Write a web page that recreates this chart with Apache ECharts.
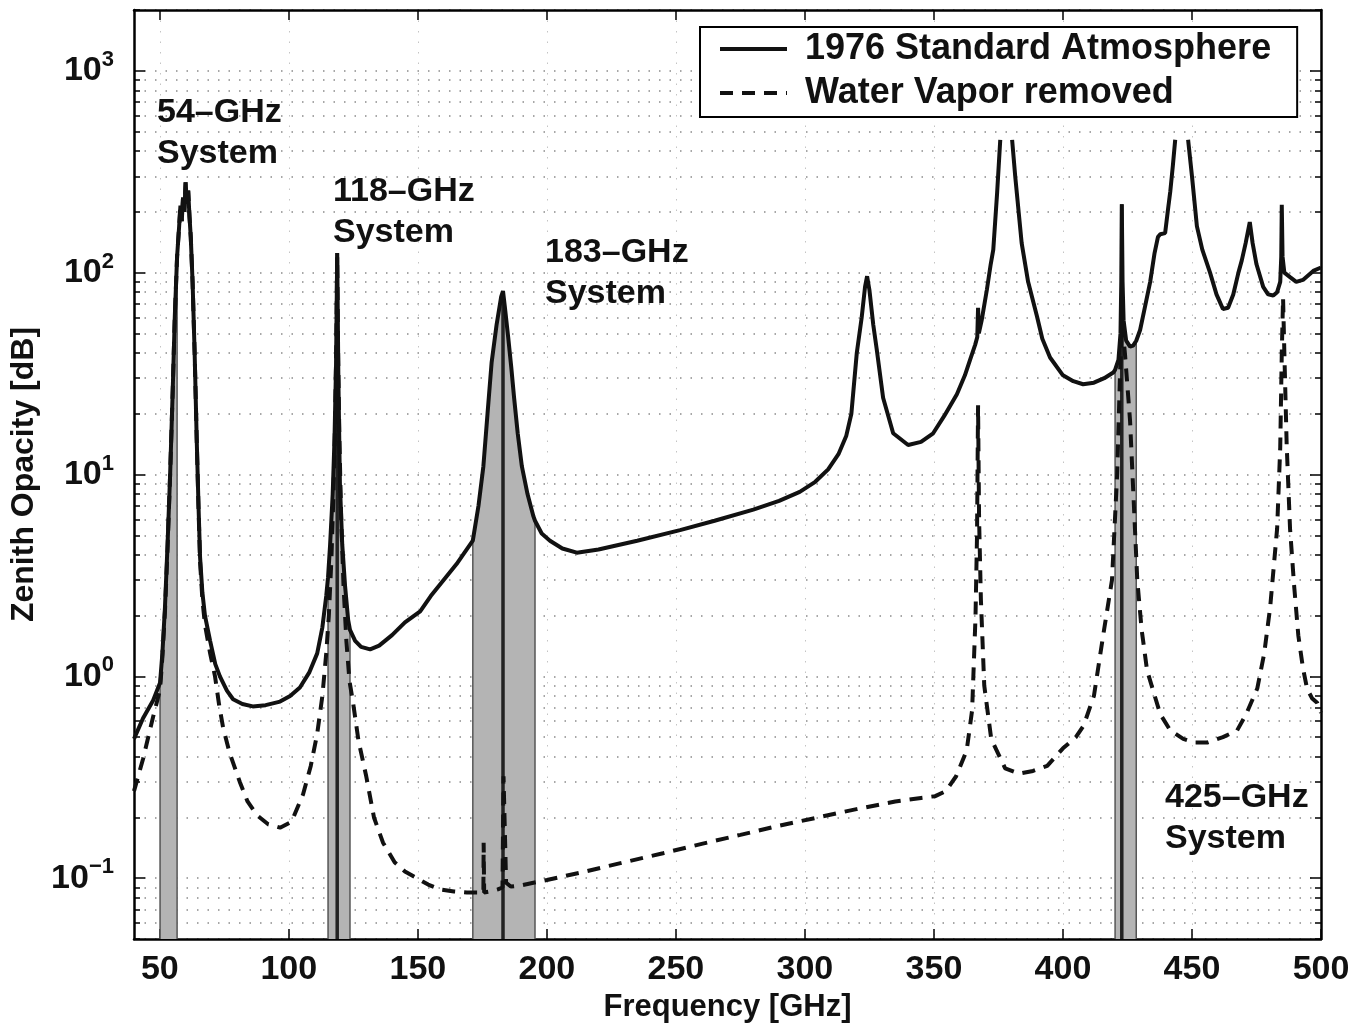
<!DOCTYPE html>
<html>
<head>
<meta charset="utf-8">
<script src="https://cdn.jsdelivr.net/npm/echarts@6/dist/echarts.min.js"></script>
<style>
html,body{margin:0;padding:0;background:#fff;}
#chart{width:1354px;height:1024px;}
</style>
</head>
<body>
<div id="chart"></div>
<script>
// ---------- data (frequency GHz, zenith opacity dB) ----------
const xTicks = [50,100,150,200,250,300,350,400,450,500];
const yMajorTicks = [0.1,1,10,100,1000];
const yMinorTicks = [0.05,0.06,0.07,0.08,0.09,0.2,0.3,0.4,0.5,0.6,0.7,0.8,0.9,
  2,3,4,5,6,7,8,9,20,30,40,50,60,70,80,90,200,300,400,500,600,700,800,900,2000];
const seriesNames = ['1976 Standard Atmosphere','Water Vapor removed'];

const standardAtm = [
 [40,0.49],[43.5,0.62],[47.4,0.76],[50.1,0.93],[51,1.3],[52,2.2],[53,4.5],[54,10],[55,26],[55.8,60],[56.7,120],
 [57.5,170],[58,215],[58.5,180],[59,235],[59.5,200],[60,280],[60.5,220],[61,255],[61.5,190],[62,150],
 [62.7,90],[63.5,40],[64.3,15],[65,7],[65.6,3.9],[66.5,2.6],[67.5,2.0],[69.5,1.5],[71.5,1.15],[73.3,1.0],
 [76,0.85],[78.4,0.77],[82,0.73],[86,0.71],[91,0.72],[96.6,0.75],[100.5,0.8],[104.3,0.88],[108,1.05],
 [111,1.3],[113,1.75],[114.5,2.5],[115.2,3.1],[116,4.5],[117,8],[117.7,15],[118.3,35],[118.75,125],
 [119.2,30],[119.8,9],[120.7,4.5],[121.8,2.8],[123,1.9],[123.7,1.7],[125.7,1.5],[128,1.4],[131.5,1.36],
 [135,1.42],[140,1.6],[145,1.85],[150.9,2.1],[155,2.5],[160,3.0],[165,3.6],[171.3,4.7],[173.5,7],
 [175.4,11],[177,20],[178.6,36],[180.5,55],[182.3,76],[183,81],[183.7,68],[185,48],[186.2,34],[187.3,24],
 [188.7,16],[190.3,11],[192.5,8],[194.8,6.2],[195.4,5.9],[198,5.1],[201.2,4.7],[206,4.3],[211.6,4.1],[220,4.25],[235,4.7],
 [251.6,5.3],[265,5.9],[280,6.7],[290,7.4],[298,8.2],[304,9.2],[309,10.6],[313,12.6],[316,15.5],[318,20],
 [320.1,40],[322,60],[323.3,85],[324.1,96],[325,82],[326.5,55],[327.8,42],[330.3,24],[334.2,16],
 [340,14],[345,14.5],[349.7,16],[354,19.5],[358.9,25],[362,31],[364,37],[366,44],[366.8,48],[367.1,67],
 [367.4,50],[368.5,58],[370.5,82],[372,110],[373,130],[374.5,250],[375.7,455],[378,null],
 [380.3,455],[381.5,300],[384,140],[386.5,90],[389.9,61],[392,47],[395,38],[400,31],[404,29],
 [407.8,28],[412,28.5],[416,30],[419.5,32],[420.2,33],[421.5,37],[422.3,50],[422.6,90],[422.8,218],
 [423.1,90],[423.5,58],[424.5,46],[426,43],[427.2,43.5],[428.4,46],[429.9,52],[431.5,65],[433.8,90],
 [435.5,125],[436.8,150],[437.7,155],[439.6,157],[440.6,200],[441.6,253],[442.6,340],[443.5,455],[446,null],
 [448.5,455],[450,300],[451.9,170],[454,130],[457,100],[459.5,78],[462,66],[464,67],[466,78],
 [468,100],[469.3,115],[470.8,140],[472.4,178],[473.5,140],[475,110],[477.6,85],[479.5,78],[481.5,77],
 [483,80],[484.2,90],[484.6,120],[484.8,217],[485.1,120],[485.8,100],[488,95],[490.4,90],[493,92],
 [497,102],[500,106]
];

const dryAir = [
 [40,0.27],[43.5,0.39],[47.4,0.63],[50.1,0.86],[51,1.25],[52,2.1],[53,4.3],[54,10],[55,26],[55.8,60],[56.7,120],
 [57.5,170],[58,215],[58.5,180],[59,235],[59.5,200],[60,280],[60.5,220],[61,255],[61.5,190],[62,150],
 [62.7,90],[63.5,40],[64.3,15],[65,6.8],[65.6,3.7],[66.5,2.4],[67.5,1.8],[69.5,1.3],[71.4,1.0],[73,0.72],
 [74.5,0.56],[77,0.42],[81,0.3],[84,0.24],[87.7,0.205],[92,0.185],[96.6,0.178],[101,0.19],[105.5,0.26],
 [108.5,0.36],[111,0.52],[113,0.8],[114.5,1.3],[115.5,2],[116.5,3.8],[117.3,8],[117.9,18],[118.4,45],
 [118.75,120],[119.1,40],[119.6,15],[120.3,6],[121.2,2.8],[122.3,1.5],[123.5,0.95],[124.9,0.74],[127,0.48],
 [130,0.32],[133,0.2],[136.5,0.15],[141,0.12],[145,0.108],[149.7,0.1],[154,0.093],[158.6,0.088],[164,0.086],
 [169,0.085],[175.4,0.085],[175.5,0.15],[175.7,0.085],[178,0.086],[181,0.088],[182.8,0.09],[183.2,0.32],
 [183.6,0.32],[184.2,0.095],[186,0.091],[189.6,0.092],[200,0.098],[215,0.108],[230,0.12],[245,0.133],
 [260,0.148],[275,0.164],[290,0.182],[305,0.2],[320,0.22],[335,0.24],[345,0.25],[350.5,0.255],[354.6,0.27],
 [358.6,0.32],[362.7,0.43],[364.8,0.68],[366.1,1.95],[366.7,5],[367.1,22],[367.5,6],[368.2,2.4],
 [369.5,0.9],[372.2,0.49],[377.6,0.35],[383,0.33],[388.4,0.34],[393.9,0.36],[400,0.44],[405,0.5],
 [408,0.57],[412,0.8],[415.6,1.6],[419,3.0],[421,10],[422.2,34],[423,55],[424,40],[426,18.5],[427.5,7],
 [428.8,3.0],[430.5,1.7],[432.6,1.07],[437.7,0.65],[441.6,0.54],[446.6,0.49],[451,0.47],[455.9,0.47],
 [462,0.5],[467.5,0.54],[471,0.65],[475.3,0.87],[478,1.3],[480.3,2.2],[483,5.4],[484.2,13.6],[484.8,40],
 [485.3,75],[485.8,40],[486.7,14],[488,5.4],[489.6,2.8],[491.2,1.6],[493,1.1],[494.6,0.87],[496.5,0.78],
 [498.5,0.74],[500,0.66]
];

// receiver bands (GHz) and their centre channels
const bandRanges = [[50.1,56.7],[115.2,123.7],[171.3,195.4],[420.2,428.4]];
const bandCenters = [118.75,183,422.8];
const bandLabels = ['54\u2013GHz\nSystem','118\u2013GHz\nSystem','183\u2013GHz\nSystem','425\u2013GHz\nSystem'];

// ---------- helpers ----------
const Y_MIN = 0.05, Y_MAX = 2000;
function valueAt(f){
  for (let i=0;i<standardAtm.length;i++){ if (standardAtm[i][0]===f) return standardAtm[i][1]; }
  return null;
}
const bandSeries = bandRanges.map(([a,b]) => ({
  type:'line', name:'band', data: standardAtm.filter(p => p[0]>=a && p[0]<=b && p[1]!==null),
  symbol:'none', lineStyle:{width:0}, areaStyle:{color:'#b4b4b4', opacity:1, origin:'start'},
  silent:true, z:1, legendHoverLink:false, animation:false
}));
const edgeData = [];
bandRanges.forEach(([a,b]) => {
  edgeData.push([a,Y_MIN],[a,valueAt(a)],[a,null],[b,Y_MIN],[b,valueAt(b)],[b,null]);
});
const centerData = [];
bandCenters.forEach(c => { centerData.push([c,Y_MIN],[c,valueAt(c)],[c,null]); });

const chart = echarts.init(document.getElementById('chart'), null, {renderer:'canvas'});
const FONT = '"Liberation Sans", Arial, Helvetica, sans-serif';

const gridLineStyle = {color:'#8a8a8a', width:1.5, type:[1.5,9]};

const option = {
  animation:false,
  backgroundColor:'#fff',
  textStyle:{fontFamily:FONT},
  grid:{left:134, right:33, top:10, bottom:85, containLabel:false, outerBoundsMode:'none'},
  legend:{
    data: seriesNames,
    orient:'vertical', left:700, top:27,
    itemWidth:67, itemHeight:14, itemGap:4,
    padding:[2,26,4,18],
    borderColor:'#000', borderWidth:2, backgroundColor:'#fff',
    itemStyle:{opacity:0},
    lineStyle:{width:4, color:'#111'},
    textStyle:{fontSize:36, fontWeight:'bold', color:'#111', fontFamily:FONT, lineHeight:40, padding:[0,0,0,13]},
    selectedMode:false
  },
  xAxis:[
    {type:'value', min:40, max:500, position:'bottom',
     name:'Frequency [GHz]', nameLocation:'middle', nameGap:49,
     nameTextStyle:{fontSize:31, fontWeight:'bold', color:'#111', fontFamily:FONT},
     axisLine:{show:true, onZero:false, lineStyle:{color:'#000', width:2.5}},
     axisTick:{show:true, inside:true, length:10, customValues:xTicks, lineStyle:{color:'#000', width:1.5}},
     axisLabel:{show:true, customValues:xTicks, margin:14, fontSize:34, fontWeight:'bold', color:'#111', fontFamily:FONT},
     splitLine:{show:true, lineStyle:{color:'#c4c4c4', width:1, type:[1.5,9]}}
    },
    {type:'value', min:40, max:500, position:'top',
     axisLine:{show:true, onZero:false, lineStyle:{color:'#000', width:2.5}},
     axisTick:{show:true, inside:true, length:10, customValues:xTicks, lineStyle:{color:'#000', width:1.5}},
     axisLabel:{show:false}, splitLine:{show:false}
    }
  ],
  yAxis:[
    {type:'log', min:Y_MIN, max:Y_MAX, position:'left',
     name:'Zenith Opacity [dB]', nameLocation:'middle', nameGap:78, nameRotate:90,
     nameTextStyle:{fontSize:32, fontWeight:'bold', color:'#111', fontFamily:FONT},
     axisLine:{show:true, onZero:false, lineStyle:{color:'#000', width:2.5}},
     axisTick:{show:true, inside:true, length:11, customValues:yMajorTicks, lineStyle:{color:'#000', width:1.5}},
     axisLabel:{show:true, customValues:yMajorTicks, margin:20,
       formatter: v => '{b|10}{s|' + Math.round(Math.log10(v)).toString().replace('-','\u2212') + '}',
       rich:{ b:{fontSize:34, fontWeight:'bold', color:'#111', fontFamily:FONT, lineHeight:44},
              s:{fontSize:22, fontWeight:'bold', color:'#111', fontFamily:FONT, lineHeight:22, verticalAlign:'top'} }
     },
     splitLine:{show:true, lineStyle:gridLineStyle}
    },
    {type:'log', min:Y_MIN, max:Y_MAX, position:'left',
     axisLine:{show:false},
     axisTick:{show:true, inside:true, length:6, customValues:yMinorTicks, lineStyle:{color:'#000', width:1.5}},
     axisLabel:{show:false},
     splitLine:{show:true, lineStyle:gridLineStyle}
    },
    {type:'log', min:Y_MIN, max:Y_MAX, position:'right',
     axisLine:{show:true, onZero:false, lineStyle:{color:'#000', width:2.5}},
     axisTick:{show:true, inside:true, length:11, customValues:yMajorTicks, lineStyle:{color:'#000', width:1.5}},
     axisLabel:{show:false}, splitLine:{show:false}
    },
    {type:'log', min:Y_MIN, max:Y_MAX, position:'right',
     axisLine:{show:false},
     axisTick:{show:true, inside:true, length:6, customValues:yMinorTicks, lineStyle:{color:'#000', width:1.5}},
     axisLabel:{show:false}, splitLine:{show:false}
    }
  ],
  graphic: bandLabels.map((t,i) => {
    const pos = [[157,92],[333,171],[545,232],[1165,777]][i];
    return {type:'text', left:pos[0], top:pos[1], z:100, silent:true,
      style:{text:t, fontSize:34, fontWeight:'bold', fill:'#111', fontFamily:FONT, lineHeight:41}};
  }),
  series: [
    ...bandSeries,
    {type:'line', name:'edges', data:edgeData, symbol:'none', connectNulls:false, silent:true, z:2,
     lineStyle:{color:'#555', width:1.5}},
    {type:'line', name:'centers', data:centerData, symbol:'none', connectNulls:false, silent:true, z:2,
     lineStyle:{color:'#222', width:3.5}},
    {type:'line', name:seriesNames[1], data:dryAir, symbol:'none', z:3, clip:true, color:'#111',
     lineStyle:{color:'#111', width:4, type:[13,9]}},
    {type:'line', name:seriesNames[0], data:standardAtm, symbol:'none', z:4, clip:true, connectNulls:false, color:'#111',
     lineStyle:{color:'#111', width:4}}
  ]
};
chart.setOption(option);
</script>
</body>
</html>
